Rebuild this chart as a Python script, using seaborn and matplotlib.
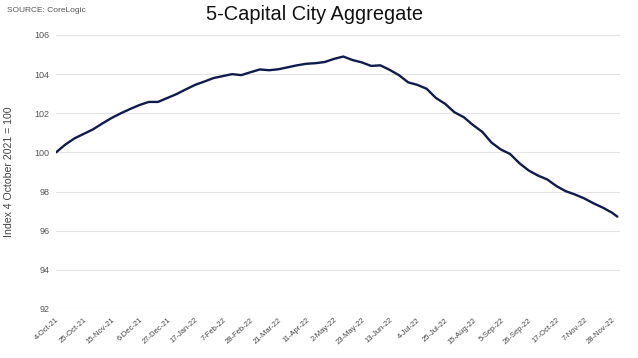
import pandas as pd
import seaborn as sns
import matplotlib.pyplot as plt

# 数据 (从图中读取, 大约每周一个点)
start_date = '2021-10-04'
day_offsets = [0, 7, 14, 21, 28, 35, 42, 49, 56, 63, 70, 77, 84, 91, 98, 105,
               112, 119, 126, 133, 140, 147, 154, 161, 168, 175, 182, 189, 196,
               203, 210, 217, 224, 231, 238, 245, 252, 259, 266, 273, 280, 287,
               294, 301, 308, 315, 322, 329, 336, 343, 350, 357, 364, 371, 378,
               385, 392, 399, 406, 413, 420, 424]
index_values = [100.00, 100.40, 100.72, 100.95, 101.18, 101.48, 101.76, 102.00,
                102.22, 102.42, 102.58, 102.58, 102.78, 102.98, 103.22, 103.45,
                103.62, 103.80, 103.90, 104.00, 103.95, 104.10, 104.24, 104.20,
                104.25, 104.35, 104.45, 104.53, 104.56, 104.62, 104.78, 104.90,
                104.72, 104.60, 104.42, 104.45, 104.22, 103.95, 103.58, 103.45,
                103.25, 102.78, 102.48, 102.05, 101.80, 101.40, 101.05, 100.50,
                100.15, 99.92, 99.45, 99.08, 98.82, 98.62, 98.28, 98.02, 97.85,
                97.65, 97.40, 97.18, 96.92, 96.72]
y_ticks = [92, 94, 96, 98, 100, 102, 104, 106]

df = pd.DataFrame({
    'Date': pd.to_datetime(start_date) + pd.to_timedelta(day_offsets, unit='D'),
    'Index': index_values,
})

sns.set_style('white')
plt.rcParams['font.family'] = ['Liberation Sans', 'DejaVu Sans']

fig = plt.figure(figsize=(6.38, 3.58), dpi=100)
ax = fig.add_axes([56 / 638, 1 - 309 / 358, (620 - 56) / 638, (309 - 35) / 358])

sns.lineplot(data=df, x='Date', y='Index', ax=ax, color='#0f1b4c', linewidth=1.7)

# 坐标轴
ax.set_ylim(92, 106)
ax.set_yticks(y_ticks)
ax.set_xlim(pd.Timestamp(start_date), pd.Timestamp(start_date) + pd.Timedelta(days=426))
tick_dates = pd.date_range(start_date, '2022-11-28', freq='21D')
ax.set_xticks(tick_dates)
ax.set_xticklabels([f'{d.day}-{d.strftime("%b-%y")}' for d in tick_dates],
                   rotation=42, ha='right', rotation_mode='anchor', fontsize=5.5, color='#444444')
ax.tick_params(axis='y', labelsize=6.5, colors='#555555', length=0, pad=4.5)
ax.tick_params(axis='x', length=2.5, color='#d9d9d9', pad=3)

ax.grid(axis='y', color='#e3e3e3', linewidth=0.8)
for s in ['top', 'right', 'left', 'bottom']:
    ax.spines[s].set_visible(False)

ax.set_xlabel('')
ax.set_ylabel('Index 4 October 2021 = 100', fontsize=7.6, color='#444444')
ax.yaxis.set_label_coords((14 - 56) / 564, (309 - 172) / 274)

fig.text(315 / 638, 1 - 15 / 358, '5-Capital City Aggregate', fontsize=14.4,
         ha='center', va='center', color='#111111')
fig.text(7 / 638, 1 - 10 / 358, 'SOURCE: CoreLogic', fontsize=6,
         ha='left', va='center', color='#555555')

plt.savefig('out.png', dpi=100)
plt.close()
